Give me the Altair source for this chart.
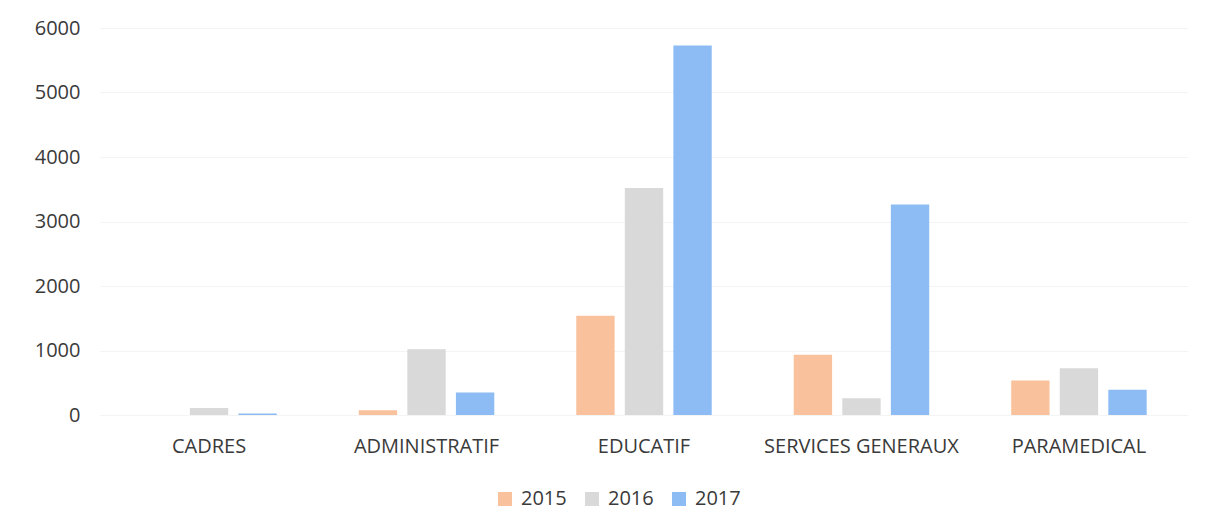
import altair as alt
import pandas as pd

categories = ["CADRES", "ADMINISTRATIF", "EDUCATIF", "SERVICES GENERAUX", "PARAMEDICAL"]
years = ["2015", "2016", "2017"]
v2015 = [0, 75, 1540, 935, 535]
v2016 = [110, 1020, 3520, 260, 725]
v2017 = [25, 350, 5730, 3265, 390]
colors = ["#F9C29C", "#D9D9D9", "#8DBCF5"]

rows = []
for i, c in enumerate(categories):
    for y, vals in zip(years, [v2015, v2016, v2017]):
        rows.append({"cat": c, "year": y, "value": vals[i]})
df = pd.DataFrame(rows)

FONT = "Open Sans"

chart = alt.Chart(df).mark_bar().encode(
    x=alt.X("cat:N", sort=categories, title=None,
            scale=alt.Scale(paddingInner=0.377, paddingOuter=0.19),
            axis=alt.Axis(labelAngle=0, ticks=False, domain=False, labelPadding=21,
                          labelOverlap=False, labelLimit=0, grid=False)),
    xOffset=alt.XOffset("year:N", sort=years, scale=alt.Scale(paddingInner=0.21, paddingOuter=0)),
    y=alt.Y("value:Q", title=None,
            scale=alt.Scale(domain=[0, 6000], nice=False),
            axis=alt.Axis(values=[0, 1000, 2000, 3000, 4000, 5000, 6000], format="d", ticks=False,
                          domain=False, labelPadding=20, gridColor="#f4f4f4", gridWidth=1)),
    color=alt.Color("year:N", sort=years, title=None,
                    scale=alt.Scale(domain=years, range=colors),
                    legend=alt.Legend(orient="none", direction="horizontal", legendX=395, legendY=461,
                                      symbolType="square", symbolSize=196, symbolStrokeWidth=0,
                                      columnPadding=15, labelOffset=6)),
).properties(
    width=1088, height=387,
    padding={"top": 10, "left": 26, "right": 5, "bottom": 5},
).configure_view(stroke=None).configure_axis(
    labelFont=FONT, labelFontSize=20, labelColor="#3a3a3a"
).configure_legend(
    labelFont=FONT, labelFontSize=20, labelColor="#3a3a3a"
)

chart.save("out.html", embed_options={"renderer": "svg", "actions": False})
